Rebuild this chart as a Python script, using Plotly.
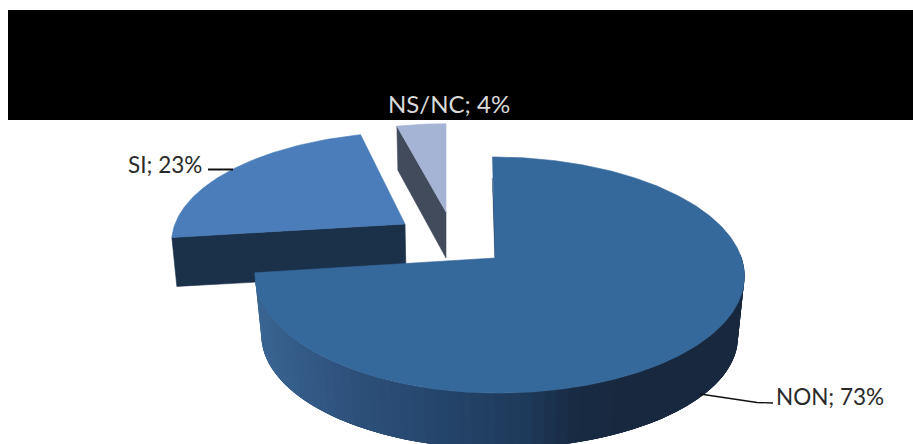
import math
import plotly.graph_objects as go

categories = ["NON", "SI", "NS/NC"]
values = [73, 23, 4]
top_colors = ["#35689B", "#4A7DBA", "#A5B4D4"]
side_colors = ["#18293F", "#1B3049", "#424B5C"]

W, H = 913, 444
K = 0.144

# projection of each exploded slice (apex, radii, height scale, shear, depth offset)
geom = {
    "NON": dict(ax=495, ay=258, rl=238, rr=246.5, s=115.6, sh=2.5),
    "SI": dict(ax=405, ay=224, rl=230, rr=230, s=105, sh=-6),
    "NS/NC": dict(ax=446, ay=212, rl=225, rr=225, s=101, sh=0),
}


def proj(g, theta):
    u, v = math.sin(theta), -math.cos(theta)
    d = 1 - K * v
    r = g["rr"] if u > 0 else g["rl"]
    return g["ax"] + r * u / d + g["sh"] * v, g["ay"] + g["s"] * v / d


def arc(g, t0, t1, n=120):
    return [proj(g, t0 + (t1 - t0) * i / n) for i in range(n + 1)]


def poly(pts, color, lw=0.6):
    pts = list(pts) + [pts[0]]
    return go.Scatter(x=[p[0] for p in pts], y=[p[1] for p in pts], mode="lines",
                      fill="toself", fillcolor=color, line=dict(color=color, width=lw),
                      hoverinfo="skip", showlegend=False)


def lerp_color(stops, x):
    for (x0, c0), (x1, c1) in zip(stops, stops[1:]):
        if x <= x1:
            t = max(0, (x - x0) / (x1 - x0))
            return "rgb(%d,%d,%d)" % tuple(round(a + (b - a) * t) for a, b in zip(c0, c1))
    return "rgb(%d,%d,%d)" % stops[-1][1]


side_stops = [(258, (58, 100, 146)), (340, (46, 82, 124)), (440, (36, 68, 106)),
              (520, (30, 58, 90)), (570, (24, 42, 66)), (620, (24, 41, 63))]

total = sum(values)
angles = {}
acc = 0.0
for c, v in zip(categories, values):
    angles[c] = (acc, acc + v / total * 2 * math.pi)
    acc += v / total * 2 * math.pi

fig = go.Figure()

# NS/NC
g = geom["NS/NC"]
t0, t1 = angles["NS/NC"]
A = (g["ax"], g["ay"])
P = proj(g, t0)
fig.add_trace(poly([P, A, (A[0], A[1] + 46), (P[0] + 1, P[1] + 44)], side_colors[2]))
fig.add_trace(poly([A] + arc(g, t0, t1, 20), top_colors[2]))

# SI
g = geom["SI"]
t0, t1 = angles["SI"]
A = (g["ax"], g["ay"])
P = proj(g, t0)
fig.add_trace(poly([P, A, (A[0] + 1, A[1] + 50), (P[0] + 5, P[1] + 49)], side_colors[1]))
fig.add_trace(poly([A] + arc(g, t0, t1), top_colors[1]))

# NON: side wall, painted left to right with overlapping strips so no seams show
g = geom["NON"]
t0, t1 = angles["NON"]
A = (g["ax"], g["ay"])
b = dict(ax=495, ay=320, rl=231.6, rr=240, s=110, sh=2.5)
n = 70
start = math.pi / 2 * 0.98
ts = [t1 + (start - t1) * i / n for i in range(n + 1)]
for i in range(n):
    j = min(i + 4, n)
    upper = [proj(g, ts[i] + (ts[j] - ts[i]) * q / 6) for q in range(7)]
    lower = [proj(b, ts[j] + (ts[i] - ts[j]) * q / 6) for q in range(7)]
    col = lerp_color(side_stops, (upper[0][0] + lower[-1][0]) / 2)
    fig.add_trace(poly(upper + lower, col, 0))
# thin wall visible beside the first radial edge
fig.add_trace(poly([(492.3, 178), (497.5, 257.5), (494.8, 257.5)], side_colors[1], 0.3))
fig.add_trace(poly([A] + arc(g, t0, t1, 360), top_colors[0]))

# leader lines
for xs, ys, w in [([208, 233], [169.5, 169.5], 2), ([700, 757, 773], [394, 402.5, 403], 1.4)]:
    fig.add_trace(go.Scatter(x=xs, y=ys, mode="lines", line=dict(color="#111111", width=w),
                             hoverinfo="skip", showlegend=False))

pct = dict(zip(categories, values))
labels = [("NON", 774, 396, "#2A2A2A", 22.5), ("SI", 165, 164, "#2A2A2A", 22.5),
          ("NS/NC", 449, 103.5, "#DADADA", 24)]
for c, x, y, col, size in labels:
    fig.add_annotation(x=x, y=y, xref="x", yref="y", text=f"{c}; {pct[c]}%", showarrow=False,
                       xanchor="left" if c == "NON" else "center", yanchor="middle",
                       font=dict(family="Lato", size=size, color=col))

fig.add_shape(type="rect", xref="x", yref="y", x0=8, x1=W, y0=10, y1=120,
              fillcolor="#000000", line_width=0, layer="below")

fig.update_layout(width=W, height=H, margin=dict(l=0, r=0, t=0, b=0),
                  paper_bgcolor="white", plot_bgcolor="white", showlegend=False,
                  xaxis=dict(range=[0, W], visible=False, fixedrange=True),
                  yaxis=dict(range=[H, 0], visible=False, fixedrange=True))
fig.write_html("out.html", config={"displayModeBar": False},
               post_script="document.body.style.margin='0';")
